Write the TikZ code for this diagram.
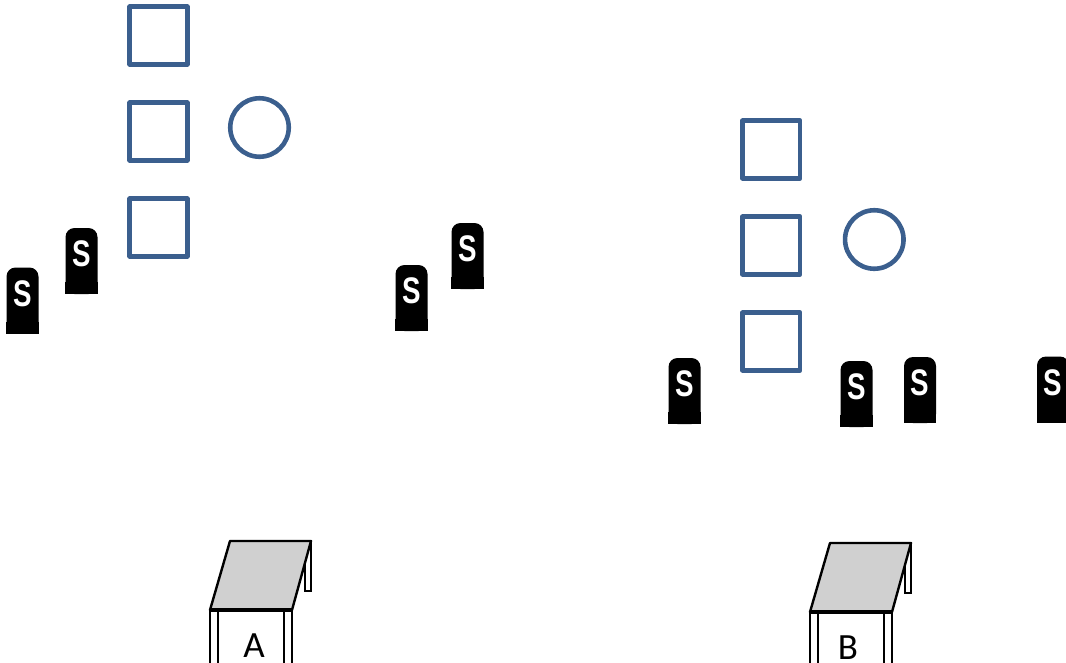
\documentclass[tikz,border=0pt]{standalone}
\usepackage{fontspec}
\newfontfamily\labfont{Carlito}
\newfontfamily\iconfont{Liberation Sans}
\usetikzlibrary{positioning}
\definecolor{shapeblue}{HTML}{3B5F8E}
\definecolor{topgray}{HTML}{D0D0D0}

\begin{document}
\begin{tikzpicture}[x=1pt,y=-1pt,node distance=96pt,on grid,
    box/.style={draw=shapeblue,line width=4.6pt,minimum size=57.5pt,inner sep=0pt,line join=round},
    ring/.style={circle,draw=shapeblue,line width=4.6pt,minimum size=58.5pt,inner sep=0pt},
    saltcan/.style={fill=black,minimum width=32pt,minimum height=66pt,inner sep=0pt,rounded corners=9pt,
      append after command={\pgfextra{\fill[black,sharp corners] (\tikzlastnode.south west) rectangle ([yshift=12pt]\tikzlastnode.south east);}},
      label={[text=white,font=\iconfont\bfseries\fontsize{37}{37}\selectfont,yshift=7pt]center:\scalebox{0.75}[1]{S}}},
    leg/.style={draw=black,fill=white,line width=2pt},
    tabletop/.style={draw=black,fill=topgray,line width=2.4pt,line join=round},
    letter/.style={font=\labfont\fontsize{37}{37}\selectfont,anchor=base,inner sep=0pt}]
  \useasboundingbox (0,0) rectangle (1066,662);

  % left group
  \node[box] (sqA1) at (158.5,35.5) {};
  \node[box] (sqA2) [below=of sqA1] {};
  \node[box] (sqA3) [below=of sqA2] {};
  \node[ring] (ringA) [above right=4pt and 101pt of sqA2] {};

  % right group
  \node[box] (sqB1) at (771.3,149.5) {};
  \node[box] (sqB2) [below=of sqB1] {};
  \node[box] (sqB3) [below=of sqB2] {};
  \node[ring] (ringB) [above right=6pt and 103pt of sqB2] {};

  % salt cans
  \node[saltcan] (sA1) at (22.5,300.5) {};
  \node[saltcan] (sA2) at (81.5,261) {};
  \node[saltcan] (sA3) at (411.5,298) {};
  \node[saltcan] (sA4) at (467.5,256) {};
  \node[saltcan] (sB1) at (684.5,391) {};
  \node[saltcan] (sB2) at (856.5,394) {};
  \node[saltcan] (sB3) at (920,390) {};
  \node[saltcan] (sB4) at (1053,389.5) {};

  % tables
  \foreach \dx/\dy/\lx/\t in {0/0/254/A,600/2/848/B}{
    \begin{scope}[shift={(\dx,\dy)}]
      \draw[leg] (304.5,541) rectangle (311,591);
      \draw[leg] (210,610) rectangle (217.5,668);
      \draw[leg] (284,610) rectangle (291.5,668);
      \filldraw[tabletop] (230,541) -- (311,541) -- (292,610) -- (210,610) -- cycle;
      \draw[line width=3.5pt] (210,610) -- (292,610);
    \end{scope}
    \node[letter] (lab\t) at (\lx,657+\dy) {\t};
  }
\end{tikzpicture}
\end{document}
